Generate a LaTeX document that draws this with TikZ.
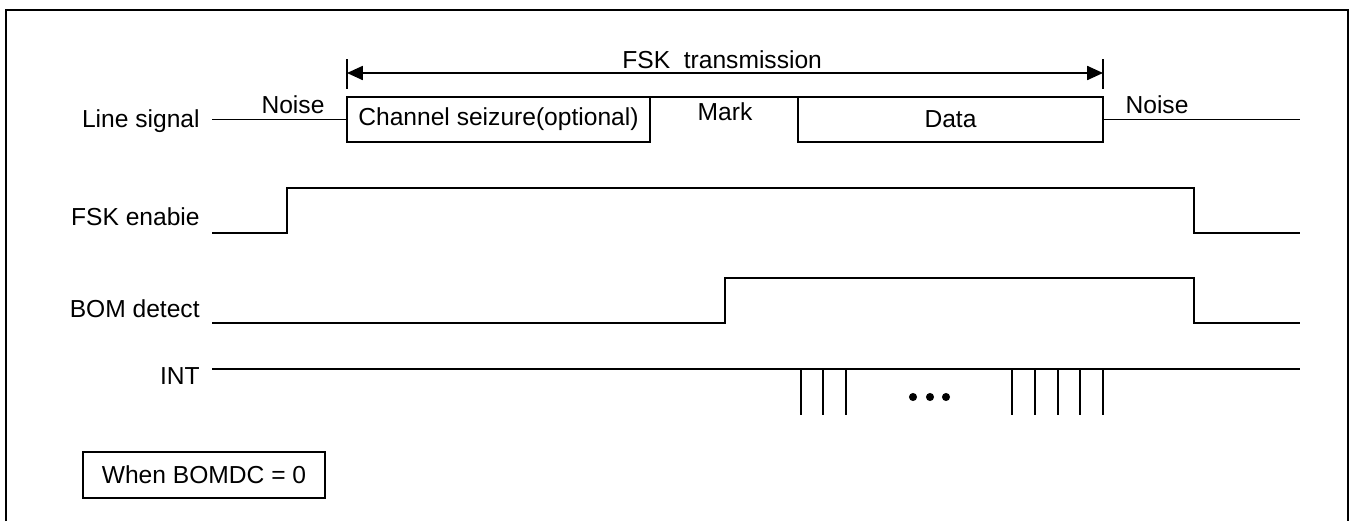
\documentclass[tikz,border=0pt]{standalone}
\usepackage{fontspec}
\setmainfont{Liberation Sans}
\usepackage{tikz}
\usetikzlibrary{arrows.meta,positioning}
\definecolor{WaveInk}{HTML}{000000}

\begin{document}
\begin{tikzpicture}[x=0.02cm,y=-0.02cm,
    sig/.style={line width=0.9pt, WaveInk},
    lbl/.style={font=\fontsize{14}{16}\selectfont, inner sep=0pt},
    seg/.style={draw, line width=0.9pt, font=\fontsize{14}{16}\selectfont,
                inner sep=0pt, outer sep=0pt, minimum height=0.9cm}]
  \useasboundingbox (0,0) rectangle (1353,521);
  \draw[line width=1.5pt] (6,521) -- (6,10) -- (1348,10) -- (1348,521);

  % signal names
  \node[lbl, anchor=base east] (ls)  at (200,127) {Line signal};
  \node[lbl, anchor=base east] (fen) at (200,225) {FSK enabie};
  \node[lbl, anchor=base east] (bom) at (200,317) {BOM detect};
  \node[lbl, anchor=base east] (int) at (200,384) {INT};

  % line signal
  \coordinate (L0) at (212,119.5);
  \coordinate (L1) at (1300,119.5);
  \node[seg, minimum width=6.06cm] (cs)   at (498.5,119.5) {Channel seizure(optional)};
  \node[seg, minimum width=6.10cm] (data) at (950.5,119.5) {Data};
  \draw[sig] (L0) -- (cs.west);
  \draw[sig] (cs.north east) -- (data.north west);
  \draw[sig] (data.east) -- (L1);
  \node[lbl, anchor=base] (nz1)  at (293,113)  {Noise};
  \node[lbl, anchor=base] (mark) at (725,120)  {Mark};
  \node[lbl, anchor=base] (nz2)  at (1157,113) {Noise};

  % transmission span
  \coordinate (T0) at (347,73);
  \coordinate (T1) at (1103,73);
  \draw[sig] ([yshift=0.28cm]T0) -- ([yshift=-0.32cm]T0);
  \draw[sig] ([yshift=0.28cm]T1) -- ([yshift=-0.32cm]T1);
  \draw[sig, {Triangle[length=9pt,width=8pt]}-{Triangle[length=9pt,width=8pt]}] (T0) -- (T1);
  \node[lbl, anchor=base west] (fsk) at (622,68) {FSK\ \ transmission};

  % FSK enable and BOM detect
  \draw[sig] (212,233) -- (287,233) -- (287,188) -- (1194,188) -- (1194,233) -- (1300,233);
  \draw[sig] (212,323) -- (725,323) -- (725,278) -- (1194,278) -- (1194,323) -- (1300,323);

  % INT pulses
  \draw[sig] (212,369) -- (1300,369);
  \foreach \x in {801,823,846,1012,1035,1058,1080,1103}
    \draw[sig] (\x,369) -- (\x,415);
  \foreach \x in {913,930,946}
    \fill (\x,397) circle (2.3pt);

  \node[seg, minimum width=4.84cm, minimum height=0.92cm] (mode) at (204,475) {When BOMDC = 0};
\end{tikzpicture}
\end{document}
